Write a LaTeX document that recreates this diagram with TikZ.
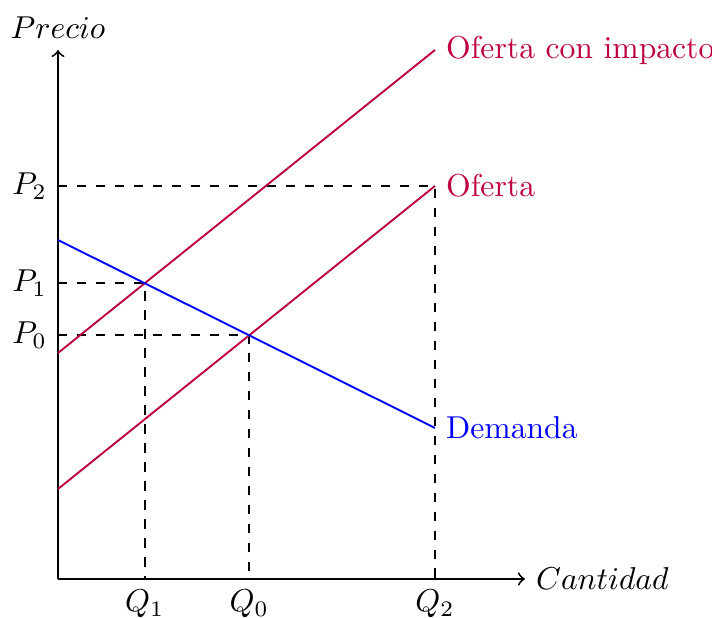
\documentclass[tikz,border=0pt]{standalone}
\begin{document}
\begin{tikzpicture}[x=0.316pt,y=-0.316pt,
  axis/.style={semithick,->},
  curve/.style={semithick},
  guide/.style={semithick,dashed},
  supply/.style={purple},
  demand/.style={blue}]
\useasboundingbox (0,0) rectangle (712,618);
% axes
\coordinate (O) at (58,579);
\coordinate (Ytop) at (58,50);
\coordinate (Xend) at (525,579);
\draw[axis] (O) -- (Ytop);
\draw[axis] (O) -- (Xend);
\node (ylab) [above] at (Ytop) {$Precio$};
\node (xlab) [right] at (Xend) {$Cantidad$};
% curves
\coordinate (S0a) at (58,489);
\coordinate (S0b) at (435,186);
\coordinate (S1a) at (58,353);
\coordinate (S1b) at (435,50);
\coordinate (Da) at (58,240);
\coordinate (Db) at (435,428);
\coordinate (E0) at (intersection of S0a--S0b and Da--Db);
\coordinate (E1) at (intersection of S1a--S1b and Da--Db);
% guides
\draw[guide] (E0 -| O) -| (E0 |- O);
\draw[guide] (E1 -| O) -| (E1 |- O);
\draw[guide] (S0b -| O) -| (S0b |- O);
\draw[curve,supply] (S1a) -- (S1b);
\draw[curve,supply] (S0a) -- (S0b);
\draw[curve,demand] (Da) -- (Db);
% labels
\node (l1) [right,supply] at (S1b) {Oferta con impacto};
\node (l0) [right,supply] at (S0b) {Oferta};
\node (ld) [right,demand] at (Db) {Demanda};
\node (p2) [left] at (S0b -| O) {$P_2$};
\node (p1) [left] at (E1 -| O) {$P_1$};
\node (p0) [left] at (E0 -| O) {$P_0$};
\node (q1) [below] at (E1 |- O) {$Q_1$};
\node (q0) [below] at (E0 |- O) {$Q_0$};
\node (q2) [below] at (S0b |- O) {$Q_2$};
\end{tikzpicture}
\end{document}
